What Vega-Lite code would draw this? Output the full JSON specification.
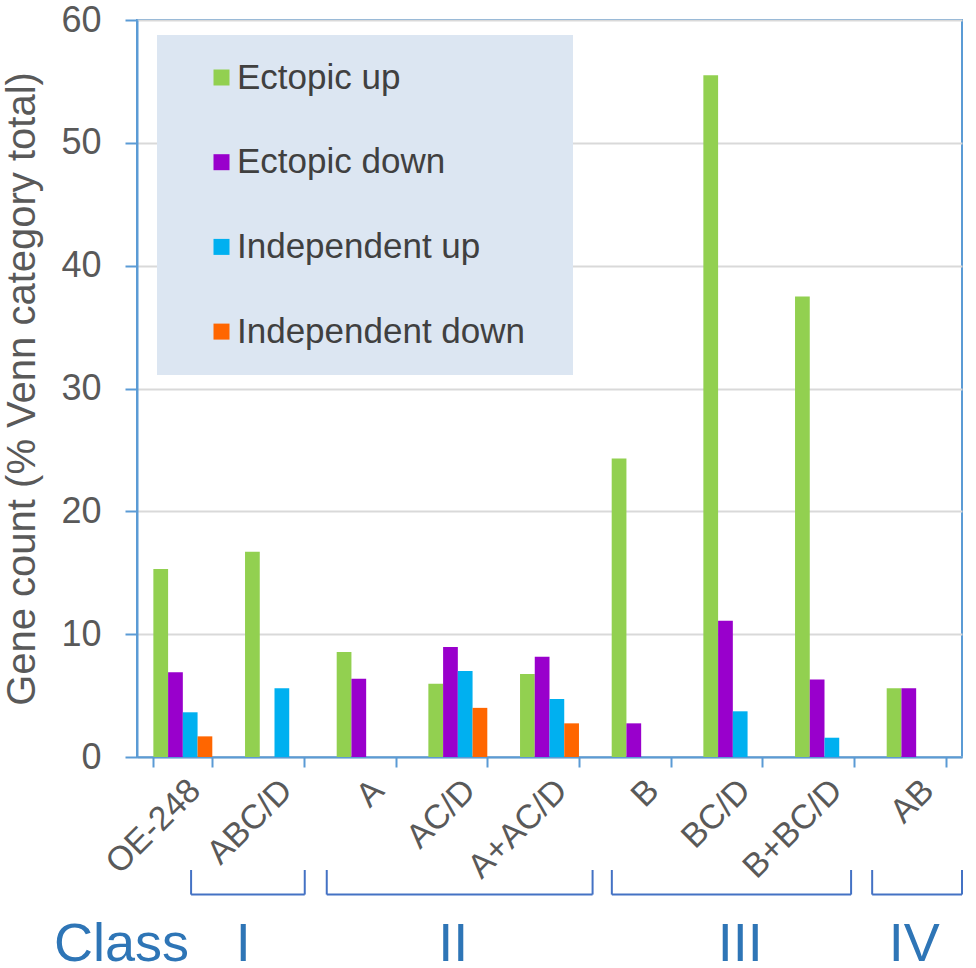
{
  "$schema": "https://vega.github.io/schema/vega-lite/v6.json",
  "autosize": "none",
  "width": 825,
  "height": 737,
  "padding": {"left": 137, "top": 20, "right": 14, "bottom": 211},
  "background": "white",
  "config": {
    "font": "Liberation Sans",
    "view": {"stroke": "#5B9BD5", "strokeWidth": 2}
  },
  "layer": [
    {
      "data": {
        "values": [
          {"group": "OE-248", "series": "Ectopic up", "value": 15.3},
          {"group": "OE-248", "series": "Ectopic down", "value": 6.9},
          {"group": "OE-248", "series": "Independent up", "value": 3.64},
          {"group": "OE-248", "series": "Independent down", "value": 1.68},
          {"group": "ABC/D", "series": "Ectopic up", "value": 16.7},
          {"group": "ABC/D", "series": "Independent up", "value": 5.6},
          {"group": "A", "series": "Ectopic up", "value": 8.55},
          {"group": "A", "series": "Ectopic down", "value": 6.38},
          {"group": "AC/D", "series": "Ectopic up", "value": 5.97},
          {"group": "AC/D", "series": "Ectopic down", "value": 8.96},
          {"group": "AC/D", "series": "Independent up", "value": 7.0},
          {"group": "AC/D", "series": "Independent down", "value": 4.0},
          {"group": "A+AC/D", "series": "Ectopic up", "value": 6.76},
          {"group": "A+AC/D", "series": "Ectopic down", "value": 8.17},
          {"group": "A+AC/D", "series": "Independent up", "value": 4.72},
          {"group": "A+AC/D", "series": "Independent down", "value": 2.74},
          {"group": "B", "series": "Ectopic up", "value": 24.3},
          {"group": "B", "series": "Ectopic down", "value": 2.74},
          {"group": "BC/D", "series": "Ectopic up", "value": 55.5},
          {"group": "BC/D", "series": "Ectopic down", "value": 11.1},
          {"group": "BC/D", "series": "Independent up", "value": 3.72},
          {"group": "B+BC/D", "series": "Ectopic up", "value": 37.5},
          {"group": "B+BC/D", "series": "Ectopic down", "value": 6.3},
          {"group": "B+BC/D", "series": "Independent up", "value": 1.57},
          {"group": "AB", "series": "Ectopic up", "value": 5.6},
          {"group": "AB", "series": "Ectopic down", "value": 5.6}
        ]
      },
      "mark": {"type": "bar"},
      "encoding": {
        "x": {
          "field": "group",
          "type": "nominal",
          "sort": ["OE-248", "ABC/D", "A", "AC/D", "A+AC/D", "B", "BC/D", "B+BC/D", "AB"],
          "scale": {"paddingInner": 0.357, "paddingOuter": 0.1785},
          "axis": {
            "title": null,
            "labelAngle": -45,
            "labelFontSize": 34,
            "labelColor": "#595959",
            "labelPadding": 6,
            "domainColor": "#5B9BD5",
            "domainWidth": 2,
            "tickColor": "#5B9BD5",
            "tickWidth": 2,
            "tickSize": 10,
            "tickBand": "extent"
          }
        },
        "xOffset": {
          "field": "series",
          "type": "nominal",
          "scale": {"domain": ["Ectopic up", "Ectopic down", "Independent up", "Independent down"], "paddingInner": 0, "paddingOuter": 0}
        },
        "y": {
          "field": "value",
          "type": "quantitative",
          "scale": {"domain": [0, 60], "nice": false},
          "axis": {
            "title": "Gene count (% Venn category total)",
            "titleFontSize": 40,
            "titleFontWeight": "normal",
            "titleColor": "#595959",
            "titlePadding": 18,
            "values": [0, 10, 20, 30, 40, 50, 60],
            "labelFontSize": 36,
            "labelColor": "#595959",
            "labelPadding": 24,
            "domainColor": "#5B9BD5",
            "domainWidth": 2,
            "tickColor": "#5B9BD5",
            "tickWidth": 2,
            "tickSize": 12,
            "gridColor": "#D9D9D9",
            "gridWidth": 2
          }
        },
        "color": {
          "field": "series",
          "type": "nominal",
          "scale": {
            "domain": ["Ectopic up", "Ectopic down", "Independent up", "Independent down"],
            "range": ["#92D050", "#9900CC", "#00B0F0", "#FF6600"]
          },
          "legend": {
            "title": " ",
            "titleOrient": "right",
            "titlePadding": 23,
            "titleFontSize": 10,
            "orient": "none",
            "legendX": 20,
            "legendY": 15,
            "fillColor": "#DCE6F2",
            "padding": 25,
            "symbolType": "square",
            "symbolSize": 256,
            "symbolStrokeWidth": 0,
            "symbolOffset": 22,
            "labelOffset": -2,
            "labelFontSize": 35,
            "labelColor": "#404040",
            "labelLimit": 400,
            "rowPadding": 48.7
          }
        }
      }
    },
    {
      "data": {
        "values": [
          {"cls": "I", "from": 0.59, "to": 1.83, "mid": 1.16},
          {"cls": "II", "from": 2.07, "to": 4.97, "mid": 3.45},
          {"cls": "III", "from": 5.18, "to": 7.79, "mid": 6.58},
          {"cls": "IV", "from": 8.02, "to": 9.0, "mid": 8.48},
          {"cls": "Class", "mid": -0.17}
        ]
      },
      "layer": [
        {
          "transform": [{"filter": "datum.cls !== 'Class'"}],
          "mark": {"type": "rule", "color": "#4472C4", "strokeWidth": 2},
          "encoding": {
            "x": {"field": "from", "type": "quantitative", "scale": {"domain": [0, 9], "nice": false, "zero": false}, "axis": null},
            "x2": {"field": "to"},
            "y": {"datum": -11.2, "type": "quantitative", "scale": {"domain": [0, 60], "nice": false}}
          }
        },
        {
          "transform": [{"filter": "datum.cls !== 'Class'"}],
          "mark": {"type": "rule", "color": "#4472C4", "strokeWidth": 2},
          "encoding": {
            "x": {"field": "from", "type": "quantitative", "scale": {"domain": [0, 9], "nice": false, "zero": false}, "axis": null},
            "y": {"datum": -9.2, "type": "quantitative", "scale": {"domain": [0, 60], "nice": false}},
            "y2": {"datum": -11.2}
          }
        },
        {
          "transform": [{"filter": "datum.cls !== 'Class'"}],
          "mark": {"type": "rule", "color": "#4472C4", "strokeWidth": 2},
          "encoding": {
            "x": {"field": "to", "type": "quantitative", "scale": {"domain": [0, 9], "nice": false, "zero": false}, "axis": null},
            "y": {"datum": -9.2, "type": "quantitative", "scale": {"domain": [0, 60], "nice": false}},
            "y2": {"datum": -11.2}
          }
        },
        {
          "mark": {"type": "text", "color": "#2E75B6", "fontSize": 54, "baseline": "alphabetic", "align": "center"},
          "encoding": {
            "x": {"field": "mid", "type": "quantitative", "scale": {"domain": [0, 9], "nice": false, "zero": false}, "axis": null},
            "y": {"datum": -16.6, "type": "quantitative", "scale": {"domain": [0, 60], "nice": false}},
            "text": {"field": "cls"}
          }
        }
      ]
    }
  ],
  "resolve": {"scale": {"x": "independent"}}
}
